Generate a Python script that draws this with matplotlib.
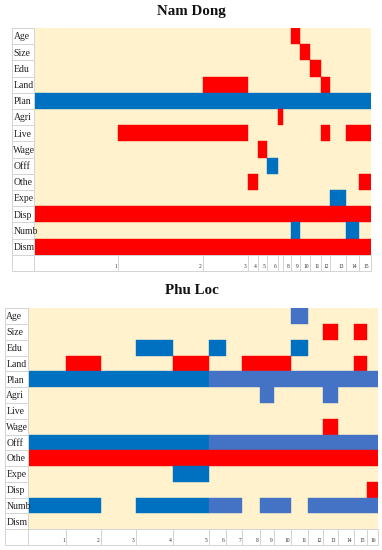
import matplotlib
matplotlib.use('Agg')
import matplotlib.pyplot as plt
from matplotlib.patches import Rectangle
from itertools import groupby
import numpy as np

plt.rcParams['font.family'] = ['Liberation Serif', 'DejaVu Serif']

row_labels = ["Age", "Size", "Edu", "Land", "Plan", "Agri", "Live", "Wage",
              "Offf", "Othe", "Expe", "Disp", "Numb", "Dism"]

# ---- Nam Dong ----
nd_widths = [84, 84, 45, 10, 9, 11, 5, 8, 9, 10, 11, 9, 15, 13, 12]
nd_ticks = ["1", "2", "3", "4", "5", "6", "", "8", "9", "10", "11", "12", "13", "14", "15"]
nd_cells = [
    "........r......",  # Age
    ".........r.....",  # Size
    "..........r....",  # Edu
    "..r........r...",  # Land
    "bbbbbbbbbbbbbbb",  # Plan
    "......r........",  # Agri
    ".rr........r.rr",  # Live
    "....r..........",  # Wage
    ".....b.........",  # Offf
    "...r..........r",  # Othe
    "............b..",  # Expe
    "rrrrrrrrrrrrrrr",  # Disp
    "........b....b.",  # Numb
    "rrrrrrrrrrrrrrr",  # Dism
]

# ---- Phu Loc ----
pl_widths = [39, 35, 35, 37, 36, 17, 17, 18, 14, 17, 17, 15, 15, 16, 13, 11]
pl_ticks = [str(i) for i in range(1, 17)]
pl_cells = [
    "..........l.....",  # Age
    "............r.r.",  # Size
    "...b.b....b.....",  # Edu
    ".r..r..rrr....r.",  # Land
    "bbbbblllllllllll",  # Plan
    "........l...l...",  # Agri
    "................",  # Live
    "............r...",  # Wage
    "bbbbblllllllllll",  # Offf
    "rrrrrrrrrrrrrrrr",  # Othe
    "....b...........",  # Expe
    "...............r",  # Disp
    "bb.bbll.ll.lllll",  # Numb
    "................",  # Dism
]

colors = {'r': '#FF0000', 'b': '#0070C0', 'l': '#4472C4'}
bg = '#FFF2CC'
border = '#D4D4D4'

W, H = 382, 550
fig = plt.figure(figsize=(W / 100, H / 100), dpi=100)


def draw_panel(rect_px, title, title_pos, widths, ticks, cells, label_w):
    x0, y0, x1, y1 = rect_px
    ax = fig.add_axes([x0 / W, 1 - y1 / H, (x1 - x0) / W, (y1 - y0) / H])
    n = len(row_labels)
    widths = np.array(widths, dtype=float)
    lefts = np.concatenate([[0], np.cumsum(widths)[:-1]])
    total = widths.sum()
    ax.set_xlim(-label_w, total)
    ax.set_ylim(n + 1, 0)
    ax.set_axis_off()
    # background
    ax.add_patch(Rectangle((0, 0), total, n, facecolor=bg, edgecolor='none', zorder=0))
    # cells: merge consecutive columns of the same code into one bar
    for i, row in enumerate(cells):
        pos = 0
        for code, grp in groupby(row):
            k = len(list(grp))
            if code in colors:
                ax.barh(i + 0.5, widths[pos:pos + k].sum(), left=lefts[pos], height=1.0,
                        color=colors[code], edgecolor=colors[code], linewidth=0.3, zorder=2)
            pos += k
    # row labels
    for i, lab in enumerate(row_labels):
        ax.add_patch(Rectangle((-label_w, i), label_w, 1, facecolor='white',
                               edgecolor=border, linewidth=0.7, zorder=3, clip_on=False))
        ax.text(-label_w + 1.4, i + 0.55, lab, ha='left', va='center', fontsize=7.0,
                color='#222222', zorder=5, clip_on=False)
    # axis row
    ax.add_patch(Rectangle((-label_w, n), label_w, 1, facecolor='white',
                           edgecolor=border, linewidth=0.7, zorder=3, clip_on=False))
    for l, w, t in zip(lefts, widths, ticks):
        ax.add_patch(Rectangle((l, n), w, 1, facecolor='white', edgecolor=border,
                               linewidth=0.7, zorder=3, clip_on=False))
        if t:
            ax.text(l + w - 1.5, n + 0.72, t, ha='right', va='center', fontsize=4.0,
                    color='#333333', zorder=5, clip_on=False)
    fig.text(title_pos[0] / W, 1 - title_pos[1] / H, title, ha='center', va='center',
             fontsize=10.8, fontweight='bold', color='#111111')


draw_panel((12, 28, 370.7, 271), "Nam Dong", (191, 11), nd_widths, nd_ticks, nd_cells, 21.9)
draw_panel((5, 308.3, 377.7, 545), "Phu Loc", (191.5, 290), pl_widths, pl_ticks, pl_cells, 22.8)

fig.savefig('out.png', dpi=100)
